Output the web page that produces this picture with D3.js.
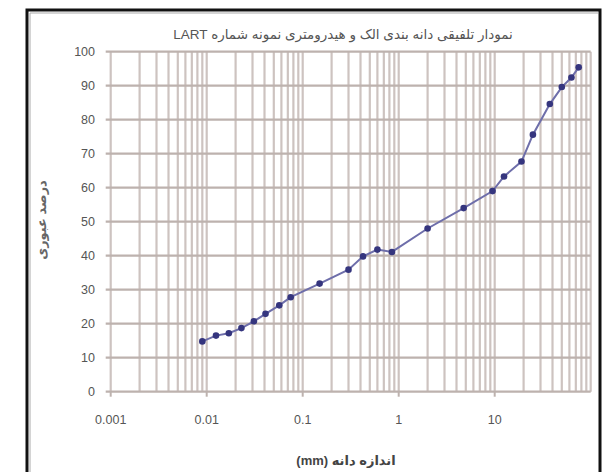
<!DOCTYPE html>
<html lang="fa">
<head>
<meta charset="UTF-8" />
<title>Grain size distribution</title>
<script src="https://d3js.org/d3.v7.min.js"></script>
<style>
	body { margin: 0; background: #fff; }
	svg { display: block; font-family: "Liberation Sans", Arial, "DejaVu Sans", sans-serif; }
</style>
</head>
<body>
<script>
	var w = 603;
	var h = 472;

	// grain size (mm) and percent passing
	var sizes = [0.009, 0.0125, 0.017, 0.023, 0.031, 0.041, 0.057, 0.075, 0.15, 0.3, 0.425, 0.6, 0.85,
		2, 4.75, 9.5, 12.5, 19, 25, 37.5, 50, 63, 75];
	var passing = [14.8, 16.5, 17.2, 18.7, 20.7, 22.9, 25.4, 27.8, 31.8, 35.9, 39.8, 41.8, 41.1,
		48.0, 54.0, 59.0, 63.3, 67.7, 75.6, 84.6, 89.6, 92.4, 95.4];
	var xTicks = [0.001, 0.01, 0.1, 1, 10];
	var xTickLabels = ["0.001", "0.01", "0.1", "1", "10"];
	var yTicks = [0, 10, 20, 30, 40, 50, 60, 70, 80, 90, 100];

	var titleText = "نمودار  تلفیقی دانه بندی الک و هیدرومتری نمونه شماره LART";
	var xTitle = "اندازه دانه (mm)";
	var yTitle = "درصد عبوری";

	var plotL = 110.7, plotR = 590.7, plotT = 51.7, plotB = 391.7;

	var xScale = d3.scaleLog().domain([0.001, 100]).range([plotL, plotR]);
	var yScale = d3.scaleLinear().domain([0, 100]).range([plotB, plotT]);

	var svg = d3.select("body").append("svg")
		.attr("width", w)
		.attr("height", h);

	// outer frame
	svg.append("rect")
		.attr("x", 27).attr("y", 10)
		.attr("width", 573).attr("height", 480)
		.attr("fill", "none")
		.attr("stroke", "#111")
		.attr("stroke-width", 3);
	svg.append("path")
		.attr("d", "M30,480V13H598")
		.attr("fill", "none")
		.attr("stroke", "#aaa")
		.attr("stroke-width", 1);

	// vertical grid lines, 1..9 in every decade
	var minor = [];
	for (var e = -3; e < 2; e++) {
		for (var m = 1; m < 10; m++) minor.push(m * Math.pow(10, e));
	}
	minor.push(100);
	svg.append("g").selectAll("line")
		.data(minor)
		.enter()
		.append("line")
		.attr("x1", function (d) { return xScale(d); })
		.attr("x2", function (d) { return xScale(d); })
		.attr("y1", plotT)
		.attr("y2", plotB)
		.attr("stroke", "#cdc3c0")
		.attr("stroke-width", 2.2);

	// horizontal grid lines
	svg.append("g").selectAll("line")
		.data(yTicks)
		.enter()
		.append("line")
		.attr("x1", plotL - 5)
		.attr("x2", plotR)
		.attr("y1", function (d) { return yScale(d); })
		.attr("y2", function (d) { return yScale(d); })
		.attr("stroke", "#bdb2ae")
		.attr("stroke-width", 2.2);

	// x ticks below the axis
	svg.append("g").selectAll("line")
		.data(xTicks)
		.enter()
		.append("line")
		.attr("x1", function (d) { return xScale(d); })
		.attr("x2", function (d) { return xScale(d); })
		.attr("y1", plotB)
		.attr("y2", plotB + 5)
		.attr("stroke", "#bdb2ae")
		.attr("stroke-width", 2);

	// axis labels
	svg.append("g").selectAll("text")
		.data(yTicks)
		.enter()
		.append("text")
		.attr("x", 95)
		.attr("y", function (d) { return yScale(d) + 4.5; })
		.attr("text-anchor", "end")
		.attr("font-size", "12.5px")
		.attr("fill", "#555")
		.text(function (d) { return d; });

	svg.append("g").selectAll("text")
		.data(xTicks)
		.enter()
		.append("text")
		.attr("x", function (d) { return xScale(d); })
		.attr("y", 424)
		.attr("text-anchor", "middle")
		.attr("font-size", "12.5px")
		.attr("fill", "#555")
		.text(function (d, i) { return xTickLabels[i]; });

	// titles
	svg.append("text")
		.attr("x", 343)
		.attr("y", 39)
		.attr("text-anchor", "middle")
		.attr("direction", "rtl")
		.attr("font-size", "13.5px")
		.attr("fill", "#555")
		.text(titleText);

	svg.append("text")
		.attr("x", 346)
		.attr("y", 465)
		.attr("text-anchor", "middle")
		.attr("direction", "rtl")
		.attr("font-size", "13px")
		.attr("font-weight", "bold")
		.attr("fill", "#444")
		.text(xTitle);

	svg.append("text")
		.attr("transform", "translate(46,220) rotate(-90)")
		.attr("text-anchor", "middle")
		.attr("direction", "rtl")
		.attr("font-size", "13px")
		.attr("font-weight", "bold")
		.attr("fill", "#666")
		.text(yTitle);

	// data line and markers
	var points = sizes.map(function (d, i) { return [d, passing[i]]; });
	var line = d3.line()
		.x(function (d) { return xScale(d[0]); })
		.y(function (d) { return yScale(d[1]); });

	svg.append("path")
		.datum(points)
		.attr("d", line)
		.attr("fill", "none")
		.attr("stroke", "#6e6eaa")
		.attr("stroke-width", 2);

	svg.append("g").selectAll("circle")
		.data(points)
		.enter()
		.append("circle")
		.attr("cx", function (d) { return xScale(d[0]); })
		.attr("cy", function (d) { return yScale(d[1]); })
		.attr("r", 3.3)
		.attr("fill", "#35357e");
</script>
</body>
</html>
